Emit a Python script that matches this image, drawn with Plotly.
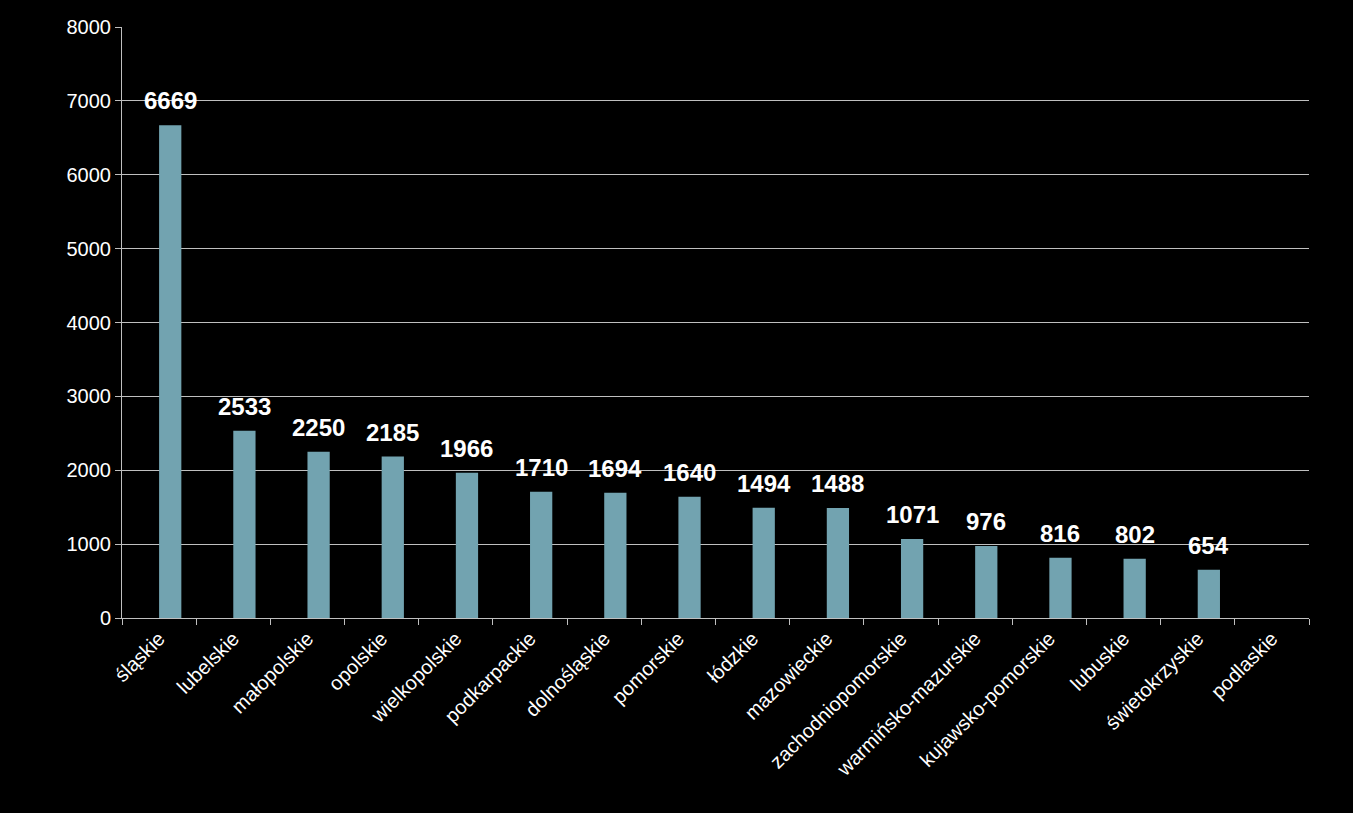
import plotly.graph_objects as go

regions = ["śląskie", "lubelskie", "małopolskie", "opolskie", "wielkopolskie",
           "podkarpackie", "dolnośląskie", "pomorskie", "łódzkie", "mazowieckie",
           "zachodniopomorskie", "warmińsko-mazurskie", "kujawsko-pomorskie",
           "lubuskie", "świetokrzyskie", "podlaskie"]
values = [6669, 2533, 2250, 2185, 1966, 1710, 1694, 1640, 1494, 1488,
          1071, 976, 816, 802, 654, None]

bar_w = 0.3

# bars sit just right of the category centre, like the original
fig = go.Figure(go.Bar(
    x=regions,
    y=values,
    width=bar_w,
    offset=0,
    marker=dict(color="#72A3B0", line=dict(width=0)),
))

# value labels above bars
for i, v in enumerate(values):
    if v is None:
        continue
    fig.add_annotation(x=i + bar_w / 2, y=v, text=str(v), showarrow=False,
                       yanchor="bottom", yshift=9,
                       font=dict(family="Liberation Sans", size=24,
                                 color="white", weight="bold"))

fig.update_layout(
    width=1353, height=813,
    paper_bgcolor="black", plot_bgcolor="black",
    margin=dict(l=122, r=44, t=27, b=195),
    showlegend=False,
    font=dict(family="Liberation Sans", color="white", size=20),
)
fig.update_xaxes(
    range=[-0.5, len(regions) - 0.5],
    tickangle=-45,
    tickson="boundaries",
    ticks="outside", ticklen=6, tickcolor="#BFBFBF",
    showline=True, linecolor="#BFBFBF", linewidth=1,
    showgrid=False,
    tickfont=dict(size=20, color="white"),
)
fig.update_yaxes(
    range=[0, 8000], dtick=1000,
    ticks="outside", ticklen=6, tickcolor="#BFBFBF",
    showline=True, linecolor="#BFBFBF", linewidth=1,
    showgrid=True, gridcolor="#BFBFBF", gridwidth=1,
    zeroline=False,
    tickfont=dict(size=20, color="white"),
)

fig.write_html("out.html", config={"displayModeBar": False},
               post_script="document.body.style.margin='0';document.body.style.background='black';")
